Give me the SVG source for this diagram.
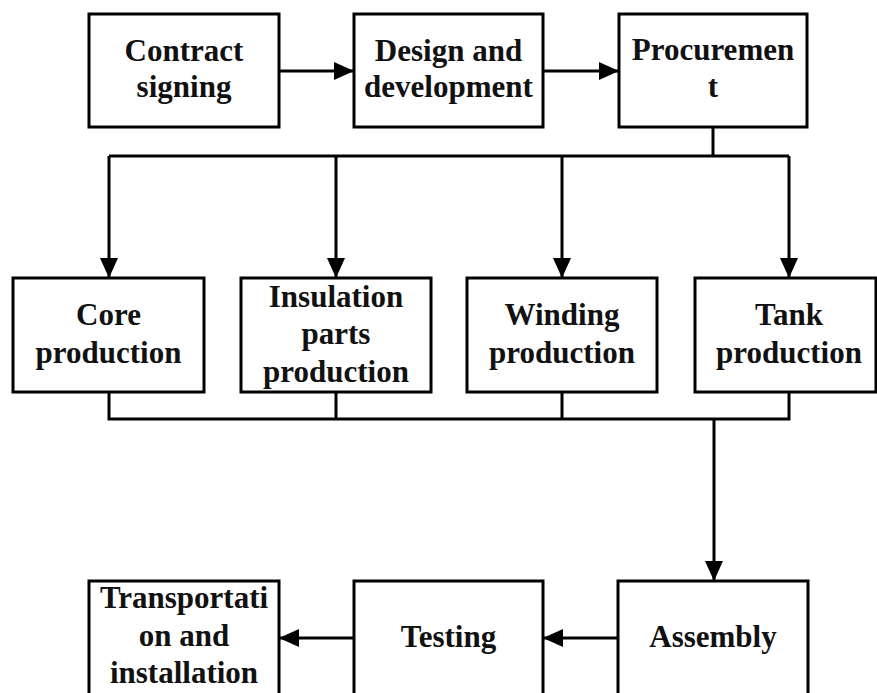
<svg xmlns="http://www.w3.org/2000/svg" width="877" height="693" viewBox="0 0 877 693">
<defs>
<marker id="arr" markerUnits="userSpaceOnUse" markerWidth="20" markerHeight="18" refX="20" refY="9" orient="auto">
<path d="M0,0 L20,9 L0,18 Z" fill="#000"/>
</marker>
<style>
.box{fill:#fff;stroke:#000;stroke-width:3}
.t{font-family:"Liberation Serif","Times New Roman",serif;font-weight:bold;font-size:31px;fill:#111;text-anchor:middle}
.c{fill:none;stroke:#000;stroke-width:3}
</style>
</defs>
<rect width="877" height="693" fill="#fff"/>
<g id="connectors">
<line class="c" x1="279" y1="71" x2="354" y2="71" marker-end="url(#arr)"/>
<line class="c" x1="543" y1="71" x2="619" y2="71" marker-end="url(#arr)"/>
<polyline class="c" points="713,127 713,156"/>
<polyline class="c" points="109,156 789,156"/>
<line class="c" x1="109" y1="156" x2="109" y2="278" marker-end="url(#arr)"/>
<line class="c" x1="336" y1="156" x2="336" y2="278" marker-end="url(#arr)"/>
<line class="c" x1="562" y1="156" x2="562" y2="278" marker-end="url(#arr)"/>
<line class="c" x1="789" y1="156" x2="789" y2="278" marker-end="url(#arr)"/>
<polyline class="c" points="109,392 109,419 789,419 789,392"/>
<line class="c" x1="336" y1="392" x2="336" y2="419"/>
<line class="c" x1="562" y1="392" x2="562" y2="419"/>
<line class="c" x1="714" y1="419" x2="714" y2="581" marker-end="url(#arr)"/>
<line class="c" x1="618" y1="638" x2="543" y2="638" marker-end="url(#arr)"/>
<line class="c" x1="354" y1="638" x2="279" y2="638" marker-end="url(#arr)"/>
</g>
<g id="contract"><rect class="box" x="89" y="14" width="190" height="113"/><text class="t" x="184" y="61">Contract</text><text class="t" x="184" y="97">signing</text></g>
<g id="design"><rect class="box" x="354" y="14" width="189" height="113"/><text class="t" x="448.5" y="61">Design and</text><text class="t" x="448.5" y="97">development</text></g>
<g id="procurement"><rect class="box" x="619" y="14" width="188" height="113"/><text class="t" x="713" y="60">Procuremen</text><text class="t" x="713" y="97">t</text></g>
<g id="core"><rect class="box" x="13" y="278" width="191" height="114"/><text class="t" x="108.5" y="325">Core</text><text class="t" x="108.5" y="363">production</text></g>
<g id="insulation"><rect class="box" x="241" y="278" width="190" height="114"/><text class="t" x="336" y="307">Insulation</text><text class="t" x="336" y="344">parts</text><text class="t" x="336" y="382">production</text></g>
<g id="winding"><rect class="box" x="467" y="278" width="190" height="114"/><text class="t" x="562" y="325">Winding</text><text class="t" x="562" y="363">production</text></g>
<g id="tank"><rect class="box" x="695" y="278" width="181" height="114"/><text class="t" x="789" y="325">Tank</text><text class="t" x="789" y="363">production</text></g>
<g id="assembly"><rect class="box" x="618" y="581" width="190" height="125"/><text class="t" x="713" y="647">Assembly</text></g>
<g id="testing"><rect class="box" x="354" y="581" width="189" height="125"/><text class="t" x="448.5" y="647">Testing</text></g>
<g id="transport"><rect class="box" x="89" y="581" width="190" height="125"/><text class="t" x="184" y="608">Transportati</text><text class="t" x="184" y="646">on and</text><text class="t" x="184" y="683">installation</text></g>
</svg>
